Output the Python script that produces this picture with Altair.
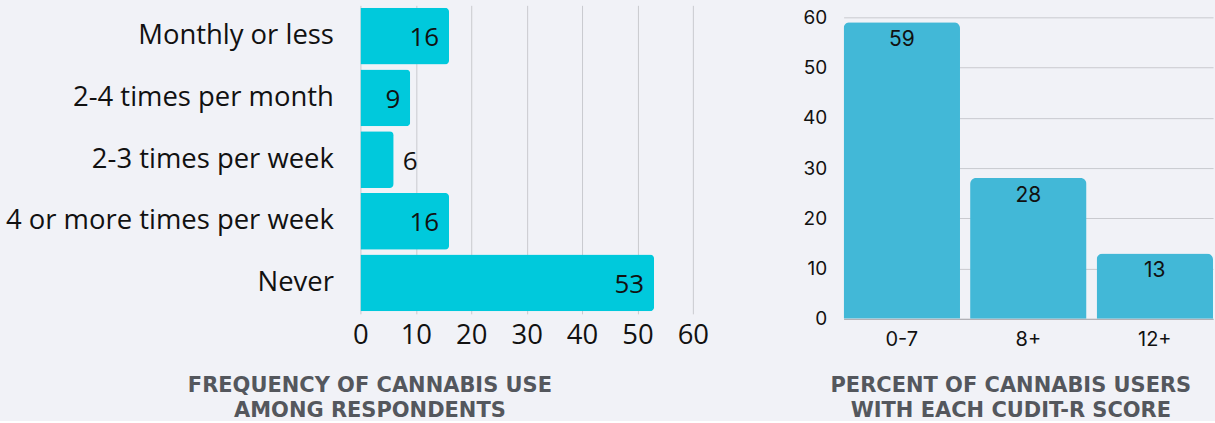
import altair as alt
import pandas as pd

# ---- data ----
freq_cats = ["Monthly or less", "2-4 times per month", "2-3 times per week",
             "4 or more times per week", "Never"]
freq_vals = [16, 9, 6, 16, 53]
score_cats = ["0-7", "8+", "12+"]
score_vals = [59, 28, 13]
left_ticks = [0, 10, 20, 30, 40, 50, 60]
right_ticks = [0, 10, 20, 30, 40, 50, 60]
left_title = ["FREQUENCY OF CANNABIS USE", "AMONG RESPONDENTS"]
right_title = ["PERCENT OF CANNABIS USERS", "WITH EACH CUDIT-R SCORE"]

left_df = pd.DataFrame({"cat": freq_cats, "value": freq_vals})
right_df = pd.DataFrame({"cat": score_cats, "value": score_vals})

BG = "#f1f2f7"
LEFT_COLOR = "#00c9dc"
RIGHT_COLOR = "#42b8d7"
TITLE_COLOR = "#54575d"
GRID = "#c9cacf"
LFONT = "Open Sans"

# ---- left chart ----
lbase = alt.Chart(left_df).encode(
    y=alt.Y("cat:N", sort=freq_cats,
            scale=alt.Scale(paddingInner=0.08, paddingOuter=0.04),
            axis=alt.Axis(title=None, labelFont=LFONT, labelFontSize=27.5,
                          labelColor="#111111", labelPadding=27, ticks=False,
                          domain=False, labelLimit=400)),
    x=alt.X("value:Q", scale=alt.Scale(domain=[0, 60]),
            axis=alt.Axis(values=left_ticks, grid=True, gridColor=GRID,
                          domain=False, ticks=False, labelFont=LFONT,
                          labelFontSize=27.5, labelColor="#111111",
                          labelPadding=8, labelFlush=False,
                          title=left_title, titleFont="DejaVu Sans",
                          titleFontSize=21, titleFontWeight="bold",
                          titleColor=TITLE_COLOR, titleX=9, titleY=78,
                          titleBaseline="alphabetic", titleLineHeight=25,
                          titleAlign="center")),
)
lbars = lbase.mark_bar(color=LEFT_COLOR, cornerRadiusEnd=4)
lin = lbase.transform_filter("datum.value >= 8").mark_text(
    align="right", baseline="middle", dx=-10, dy=2, font=LFONT, fontSize=26,
    color="#111111").encode(text="value:Q")
lout = lbase.transform_filter("datum.value < 8").mark_text(
    align="left", baseline="middle", dx=9, dy=2, font=LFONT, fontSize=26,
    color="#111111").encode(text="value:Q")
left = alt.layer(lbars, lin, lout).properties(width=333, height=309)

# ---- right chart ----
rbase = alt.Chart(right_df).encode(
    x=alt.X("cat:N", sort=score_cats,
            scale=alt.Scale(paddingInner=0.08, paddingOuter=0),
            axis=alt.Axis(labelAngle=0, labelFont="Inter", labelFontSize=20,
                          labelColor="#111111", labelPadding=11, ticks=False,
                          domain=True, domainColor="#a9aaae",
                          title=right_title, titleFont="DejaVu Sans",
                          titleFontSize=21, titleFontWeight="bold",
                          titleColor=TITLE_COLOR, titleX=167, titleY=73,
                          titleBaseline="alphabetic", titleLineHeight=25,
                          titleAlign="center")),
    y=alt.Y("value:Q", scale=alt.Scale(domain=[0, 62.38], nice=False),
            axis=alt.Axis(values=right_ticks, grid=True, gridColor=GRID,
                          domain=False, ticks=False, labelFont="Inter",
                          labelFontSize=19, labelColor="#111111",
                          labelPadding=17, title=None)),
)
rbars = rbase.mark_bar(color=RIGHT_COLOR, cornerRadiusEnd=6)
rtext = rbase.mark_text(baseline="top", dy=7, font="Inter", fontSize=21,
                        color="#111111").encode(text="value:Q")
right = alt.layer(rbars, rtext).properties(width=370, height=314)

chart = alt.hconcat(left, right, spacing=93).properties(
    padding={"left": 5, "top": 5, "right": 2, "bottom": 0},
    background=BG,
).configure_view(stroke=None)

chart.save("out.html", embed_options={"renderer": "svg", "actions": False})
